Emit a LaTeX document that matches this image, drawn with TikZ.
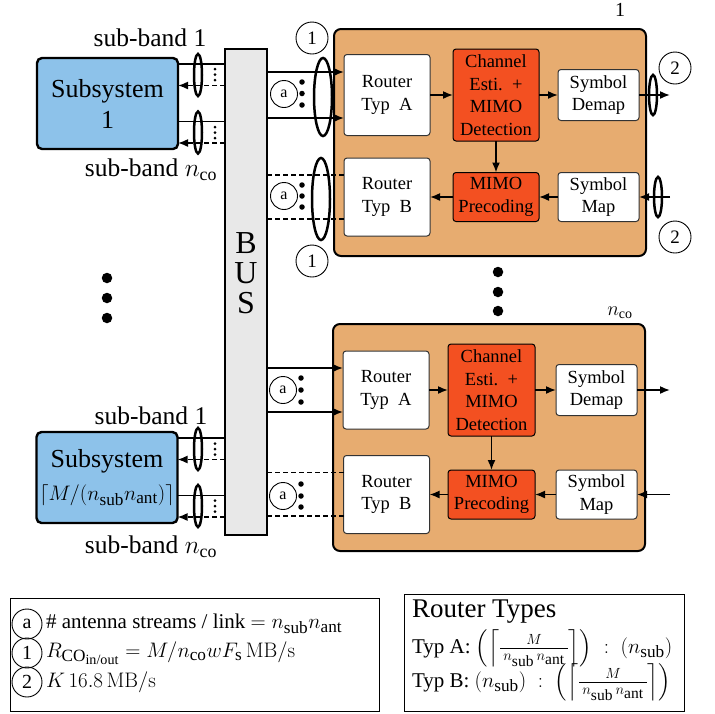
\documentclass[tikz,border=0pt]{standalone}
\usepackage{fix-cm}
\usepackage{amsmath}
\usepackage[no-math]{fontspec}
\setmainfont{Liberation Serif}
\usetikzlibrary{arrows.meta,shapes.geometric}
\definecolor{sysorange}{RGB}{231,172,112}
\definecolor{procred}{RGB}{243,80,33}
\definecolor{subblue}{RGB}{141,194,234}
\definecolor{busgray}{RGB}{232,232,232}
\makeatletter
\newcommand{\sbt}[1]{\mbox{\fontsize{\fpeval{0.82*\f@size}}{1}\selectfont #1}}
\newcommand{\sbf}[1]{\mbox{\fontsize{\fpeval{0.74*\f@size}}{1}\selectfont #1}}
\makeatother
\begin{document}
\begin{tikzpicture}[x=1pt,y=-1pt,
  every node/.style={inner sep=0pt, outer sep=0pt},
  lw/.style={line width=1.6pt},
  arr/.style={line width=1.6pt,-{Latex[length=10pt,width=8pt]}},
  dsh/.style={line width=1.6pt,dash pattern=on 5pt off 3pt},
  sysbox/.style={draw, line width=2pt, rounded corners=7pt, fill=sysorange, minimum width=312pt, minimum height=227pt},
  wbox/.style={draw=black!80, line width=1pt, rounded corners=3pt, fill=white, align=center, font=\fontsize{18.5}{22.5}\selectfont},
  rbox/.style={wbox, fill=procred, draw=black},
  ssbox/.style={draw, line width=2.4pt, rounded corners=5pt, fill=subblue, minimum width=141pt, minimum height=91pt, align=center, font=\fontsize{26}{31}\selectfont},
  lab/.style={draw, circle, line width=0.9pt, minimum size=32pt, font=\fontsize{19}{19}\selectfont},
  alab/.style={draw, circle, line width=0.9pt, minimum size=27pt, font=\fontsize{16}{16}\selectfont},
  leglab/.style={draw, circle, line width=0.9pt, minimum size=30pt, font=\fontsize{20}{20}\selectfont},
  bigdot/.style={circle, fill, minimum size=10.5pt},
  mdot/.style={circle, fill, minimum size=5.5pt},
  sdot/.style={circle, fill, minimum size=3pt},
  bund/.style={draw, ellipse, line width=2.5pt, minimum width=8pt, minimum height=42pt},
  bigbund/.style={draw, ellipse, line width=2.5pt, minimum width=18pt},
  sbtext/.style={font=\fontsize{25.5}{25.5}\selectfont},
  legtext/.style={anchor=west, font=\fontsize{21}{21}\selectfont}
]
\useasboundingbox (0,0) rectangle (715,713);

% ---------- Bus ----------
\node[draw, line width=2.8pt, fill=busgray, minimum width=42pt, minimum height=486pt] (bus) at (246,292) {};
\node[align=center, font=\fontsize{32}{30}\selectfont] (busl) at (246,273) {B\\U\\S};

% ---------- Subsystems ----------
\node[ssbox] (ss1) at (107.5,103.5) {Subsystem\\1};
\node[ssbox] (ss2) at (107,477.5) {Subsystem\\[2pt]{\fontsize{21}{22}\selectfont$\left\lceil M/(n_{\sbt{sub}}n_{\sbt{ant}})\right\rceil$}};

\node[sbtext] (sb1a) at (150,38) {sub-band 1};
\node[sbtext] (sb1b) at (151,170) {sub-band $n_{\text{co}}$};
\node[sbtext] (sb2a) at (151,416) {sub-band 1};
\node[sbtext] (sb2b) at (151,547) {sub-band $n_{\text{co}}$};

% subsystem 1 links
\draw[lw] ([yshift=39.5pt]ss1.east) -- ([yshift=39.5pt]ss1.east -| bus.west);
\draw[arr,dsh] ([yshift=18pt]ss1.east -| bus.west) -- ([yshift=18pt]ss1.east);
\draw[lw] ([yshift=-18pt]ss1.east) -- ([yshift=-18pt]ss1.east -| bus.west);
\draw[arr,dsh] ([yshift=-39.5pt]ss1.east -| bus.west) -- ([yshift=-39.5pt]ss1.east);
\node[bund] (e11) at (198,75) {};
\node[bund] (e12) at (198,132.5) {};
\foreach \y [count=\i] in {69,74.5,80} \node[sdot] (d11\i) at (215,\y) {};
\foreach \y [count=\i] in {127,132.5,138} \node[sdot] (d12\i) at (215,\y) {};

% subsystem 2 links
\draw[lw] ([yshift=39.5pt]ss2.east) -- ([yshift=39.5pt]ss2.east -| bus.west);
\draw[arr,dsh] ([yshift=18pt]ss2.east -| bus.west) -- ([yshift=18pt]ss2.east);
\draw[lw] ([yshift=-18pt]ss2.east) -- ([yshift=-18pt]ss2.east -| bus.west);
\draw[arr,dsh] ([yshift=-39.5pt]ss2.east -| bus.west) -- ([yshift=-39.5pt]ss2.east);
\node[bund] (e21) at (198,449) {};
\node[bund] (e22) at (198,506) {};
\foreach \y [count=\i] in {443.5,449,454.5} \node[sdot] (d21\i) at (215,\y) {};
\foreach \y [count=\i] in {500.5,506,511.5} \node[sdot] (d22\i) at (215,\y) {};

% big dots
\foreach \y [count=\i] in {278,298,318} \node[bigdot] (bl\i) at (107,\y) {};
\foreach \y [count=\i] in {272,292,311} \node[bigdot] (br\i) at (498,\y) {};

% ---------- System 1 ----------
\node[sysbox] (sys1) at (490,142.5) {};
\node[font=\fontsize{20}{20}\selectfont] (t1) at (620,10) {1};
\node[wbox, minimum width=86pt, minimum height=81pt] (ra1) at (387,95) {Router\\Typ~~A};
\node[rbox, minimum width=86pt, minimum height=92pt] (ch1) at (496,95) {Channel\\Esti.~~+\\MIMO\\Detection};
\node[wbox, minimum width=81pt, minimum height=51pt] (dm1) at (598.5,95) {Symbol\\Demap};
\node[wbox, minimum width=86pt, minimum height=78pt] (rb1) at (387,197) {Router\\Typ~~B};
\node[rbox, minimum width=86pt, minimum height=49pt] (pc1) at (496,197) {MIMO\\Precoding};
\node[wbox, minimum width=81pt, minimum height=49pt] (sm1) at (598.5,197) {Symbol\\Map};
\coordinate (o1) at (670,95);
\coordinate (i1) at (670,197);
\draw[arr] (ra1) -- (ch1);
\draw[arr] (ch1) -- (dm1);
\draw[arr] (dm1) -- (o1);
\draw[arr] (ch1) -- (pc1);
\draw[arr] (sm1) -- (pc1);
\draw[arr] (pc1) -- (rb1);
\draw[arr] (i1) -- (sm1);
\node[bund, minimum height=40pt] (eo1) at (653,95) {};
\node[bund, minimum height=40pt] (ei1) at (658,197) {};
\node[lab] (c2a) at (675,68) {2};
\node[lab] (c2b) at (675,237) {2};
\node[lab] (c1a) at (312,38) {1};
\node[lab] (c1b) at (312,261) {1};

\draw[arr] ([yshift=23pt]ra1.west -| bus.east) -- ([yshift=23pt]ra1.west);
\draw[arr] ([yshift=-23pt]ra1.west -| bus.east) -- ([yshift=-23pt]ra1.west);
\draw[dsh] ([yshift=22pt]rb1.west -| bus.east) -- ([yshift=22pt]rb1.west);
\draw[dsh] ([yshift=-22pt]rb1.west -| bus.east) -- ([yshift=-22pt]rb1.west);
\node[alab] (a11) at (284,94) {a};
\node[alab] (a12) at (284,196) {a};
\foreach \y [count=\i] in {82,93.5,105} \node[mdot] (m11\i) at (302,\y) {};
\foreach \y [count=\i] in {185,196,207} \node[mdot] (m12\i) at (302,\y) {};
\node[bigbund, minimum height=78pt] (eb11) at (323,97) {};
\node[bigbund, minimum height=82pt] (eb12) at (321,199) {};

% ---------- System n_co ----------
\node[sysbox] (sys2) at (489,437.5) {};
\node[font=\fontsize{20}{20}\selectfont] (t2) at (620,313) {$n_{\text{co}}$};
\node[wbox, minimum width=86pt, minimum height=78pt] (ra2) at (386,390) {Router\\Typ~~A};
\node[rbox, minimum width=87pt, minimum height=92pt] (ch2) at (491.5,390) {Channel\\Esti.~~+\\MIMO\\Detection};
\node[wbox, minimum width=81pt, minimum height=51pt] (dm2) at (596.5,390) {Symbol\\Demap};
\node[wbox, minimum width=86pt, minimum height=78pt] (rb2) at (386.5,494.5) {Router\\Typ~~B};
\node[rbox, minimum width=87pt, minimum height=49pt] (pc2) at (491.5,494.5) {MIMO\\Precoding};
\node[wbox, minimum width=81pt, minimum height=49pt] (sm2) at (596.5,494.5) {Symbol\\Map};
\coordinate (o2) at (670,390);
\coordinate (i2) at (670,494.5);
\draw[arr] (ra2) -- (ch2);
\draw[arr] (ch2) -- (dm2);
\draw[arr] (dm2) -- (o2);
\draw[arr] (ch2) -- (pc2);
\draw[arr] (sm2) -- (pc2);
\draw[arr] (pc2) -- (rb2);
\draw[arr] (i2) -- (sm2);

\draw[arr] ([yshift=22pt]ra2.west -| bus.east) -- ([yshift=22pt]ra2.west);
\draw[arr] ([yshift=-22pt]ra2.west -| bus.east) -- ([yshift=-22pt]ra2.west);
\draw[dsh] ([yshift=22pt]rb2.west -| bus.east) -- ([yshift=22pt]rb2.west);
\draw[dsh] ([yshift=-21.5pt]rb2.west -| bus.east) -- ([yshift=-21.5pt]rb2.west);
\node[alab] (a21) at (283,390) {a};
\node[alab] (a22) at (283,496) {a};
\foreach \y [count=\i] in {378,390,402} \node[mdot] (m21\i) at (301,\y) {};
\foreach \y [count=\i] in {484,496,507} \node[mdot] (m22\i) at (301,\y) {};

% ---------- Legends ----------
\node[draw, line width=1pt, minimum width=369pt, minimum height=113pt] (leg1) at (194.5,654.5) {};
\node[leglab] (la) at (27,624) {a};
\node[leglab] (l1) at (27,653) {1};
\node[leglab] (l2) at (27,682) {2};
\node[legtext] (lta) at (46,624) {\# antenna streams / link $= n_{\sbt{sub}}n_{\sbt{ant}}$};
\node[legtext] (lt1) at (46,653) {$R_{\sbt{CO$_{\sbt{in/out}}$}} = M/n_{\sbt{co}}wF_{\sbt{s}}\,\mathrm{MB/s}$};
\node[legtext] (lt2) at (46,682) {$K\,16.8\,\mathrm{MB/s}$};

\node[draw, line width=1pt, minimum width=280pt, minimum height=117pt] (leg2) at (544,652.5) {};
\node[anchor=west, font=\fontsize{27}{27}\selectfont] (rth) at (412,612) {Router Types};
\node[legtext] (rta) at (412,648) {Typ A: $\left(\left\lceil\frac{M}{\hspace{3pt}n_{\sbf{sub}}\,n_{\sbf{ant}}\hspace{3pt}}\right\rceil\right)\;:\;(n_{\sbt{sub}})$};
\node[legtext] (rtb) at (412,682) {Typ B: $(n_{\sbt{sub}})\;:\;\left(\left\lceil\frac{M}{\hspace{3pt}n_{\sbf{sub}}\,n_{\sbf{ant}}\hspace{3pt}}\right\rceil\right)$};
\end{tikzpicture}
\end{document}
